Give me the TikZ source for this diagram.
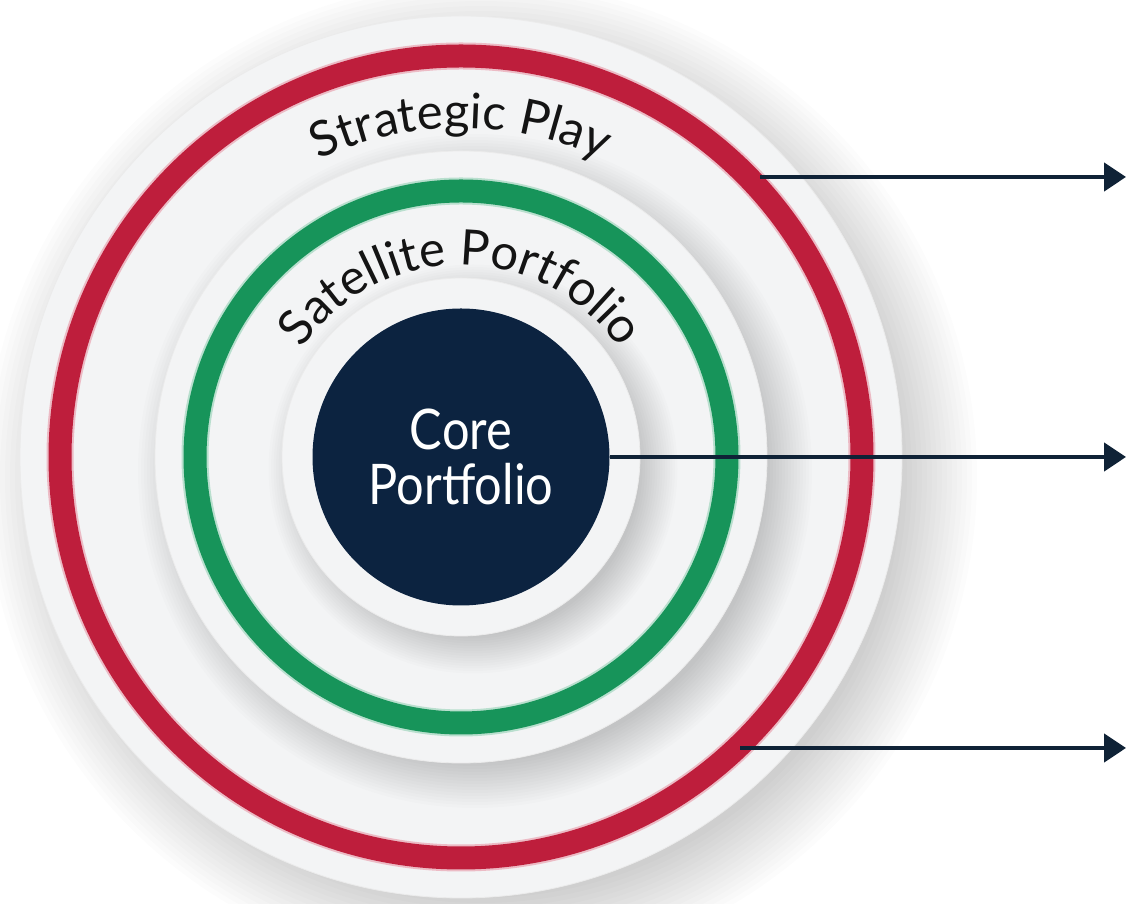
\documentclass[tikz,border=0pt]{standalone}
\usepackage{fontspec}
\setmainfont{Lato}
\newfontfamily\corefont[FakeStretch=0.87]{Lato}
\usetikzlibrary{arrows.meta,decorations.text,calc}
\definecolor{navy}{HTML}{0C2340}
\definecolor{ringred}{HTML}{BE1E3C}
\definecolor{ringgreen}{HTML}{17945A}
\definecolor{arrowc}{HTML}{0F2236}
\definecolor{discc}{HTML}{F3F4F5}
\definecolor{txt}{HTML}{141414}
\newcommand{\mysoftshadow}[5]{%
  \foreach \k in {0,...,15}{\fill[black,opacity=0.012] (#1+#4,#2-#4) circle[radius={#3-#4+\k*#5}];}}
\tikzset{
  disc/.style={circle, fill=discc, draw=black!8, line width=0.8pt, inner sep=0pt},
  arr/.style={draw=arrowc, line width=4.5pt, -{Triangle[length=22pt,width=28pt]}},
  ringhalo/.style={line width=27pt},
}
\begin{document}
\begin{tikzpicture}[x=1pt,y=1pt]
\fill[white] (0,0) rectangle (1127,904);
\useasboundingbox (0,0) rectangle (1127,904);
% outer disc
\mysoftshadow{461}{447}{441}{20}{5}
\node[disc, minimum size=882pt] (outer) at (461,447) {};
% red ring
\draw[ringred!30, ringhalo] (outer.center) circle[radius=401];
\draw[ringred, line width=23pt] (outer.center) circle[radius=401];
% strategic play label
\path[decorate, decoration={text along path, text align=center, text color=txt,
  text={|\fontsize{49}{54}\selectfont|Strategic Play}}]
  (461,447) ++(180:329) arc[start angle=180, end angle=0, radius=329];
% satellite disc
\mysoftshadow{461}{447}{306}{14}{3}
\node[disc, minimum size=612pt] (sat) at (461,447) {};
% green ring
\draw[ringgreen!30, ringhalo] (sat.center) circle[radius=266];
\draw[ringgreen, line width=23pt] (sat.center) circle[radius=266];
% satellite label
\path[decorate, decoration={text along path, text align=center, text color=txt,
  text={|\fontsize{49}{54}\selectfont|Satellite Portfolio}}]
  (461,447) ++(180:192) arc[start angle=180, end angle=0, radius=192];
% inner disc
\mysoftshadow{461}{447}{179}{12}{2.5}
\node[disc, minimum size=358pt] (inner) at (461,447) {};
% core
\node[circle, fill=navy, minimum size=297pt, inner sep=0pt, text=white, align=center,
  font=\corefont\fontsize{56}{55}\selectfont] (core) at (461,447) {Core\\Portfolio};
% arrows
\coordinate (s1) at (760,727);
\coordinate (e1) at (1126,727);
\coordinate (e2) at (1126,447);
\coordinate (s3) at (740,156);
\coordinate (e3) at (1126,156);
\draw[arr] (s1) -- (e1);
\draw[arr] (core.east) -- (e2);
\draw[arr] (s3) -- (e3);
\end{tikzpicture}
\end{document}
